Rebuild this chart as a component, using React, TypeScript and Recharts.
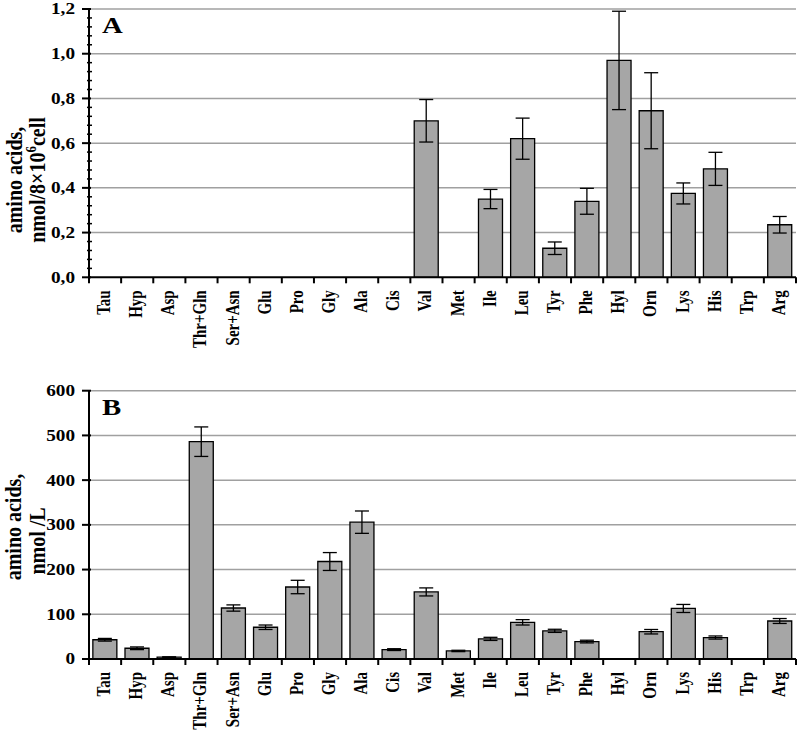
import { BarChart, Bar, XAxis, YAxis, CartesianGrid, ErrorBar } from 'recharts';

const acids = ['Tau', 'Hyp', 'Asp', 'Thr+Gln', 'Ser+Asn', 'Glu', 'Pro', 'Gly', 'Ala', 'Cis', 'Val',
  'Met', 'Ile', 'Leu', 'Tyr', 'Phe', 'Hyl', 'Orn', 'Lys', 'His', 'Trp', 'Arg'];

// panel A: nmol / 8x10^6 cell
const cellValues = [null, null, null, null, null, null, null, null, null, null, 0.70,
  null, 0.35, 0.62, 0.13, 0.34, 0.97, 0.745, 0.375, 0.485, null, 0.235];
const cellErrors = [null, null, null, null, null, null, null, null, null, null, 0.095,
  null, 0.043, 0.092, 0.028, 0.058, 0.22, 0.17, 0.047, 0.074, null, 0.037];

// panel B: nmol / L
const mediumValues = [43, 24, 4, 486, 114, 71, 161, 218, 306, 21, 150,
  18, 45, 82, 63, 39, null, 61, 113, 48, null, 85];
const mediumErrors = [3, 3, 1, 33, 7, 5, 15, 20, 25, 2, 9,
  1.5, 3.5, 6, 3.5, 3, null, 5, 9, 3.5, null, 5.5];

const ticksA = [0, 0.2, 0.4, 0.6, 0.8, 1.0, 1.2];
const minorTicksA = Array.from({ length: 31 }, (_, i) => Math.round(i * 4) / 100);
const ticksB = [0, 100, 200, 300, 400, 500, 600];

const dataA = acids.map((name, i) => ({ name, value: cellValues[i], err: cellErrors[i] }));
const dataB = acids.map((name, i) => ({ name, value: mediumValues[i], err: mediumErrors[i] }));

const FONT = 'Liberation Serif';
const W = 800;
const LEFT = 89;
const RIGHT = 4;
const PLOT_H = 268.3;
const BAND = (W - LEFT - RIGHT) / acids.length;

// tick marks on the category boundaries, rotated label in the middle
function XTick(props: any) {
  const { x, y, payload, index } = props;
  const left = x - BAND / 2;
  return (
    <g>
      <line x1={left} x2={left} y1={y} y2={y + 6} stroke="#000" strokeWidth={2} />
      {index === acids.length - 1 && (
        <line x1={x + BAND / 2} x2={x + BAND / 2} y1={y} y2={y + 6} stroke="#000" strokeWidth={2} />
      )}
      <text
        x={0}
        y={0}
        transform={`translate(${x + 5},${y + 13}) scale(1.2,1) rotate(-90)`}
        textAnchor="end"
        fontFamily={FONT}
        fontWeight={700}
        fontSize={15}
        fill="#000"
      >
        {payload.value}
      </text>
    </g>
  );
}

const makeYTick = (majors: number[], fmt: (v: number) => string) => (props: any) => {
  const { x, y, payload, index } = props;
  const major = majors.some((m) => Math.abs(m - payload.value) < 1e-9);
  if (!major) {
    return <line key={`yt-${index}`} x1={x - 2} x2={x + 3} y1={y} y2={y} stroke="#000" strokeWidth={1.5} />;
  }
  return (
    <g key={`yt-${index}`}>
      <line x1={x - 7} x2={x + 2} y1={y} y2={y} stroke="#000" strokeWidth={2} />
      <text
        x={0}
        y={0}
        transform={`translate(${x - 14},${y}) scale(1.2,1)`}
        textAnchor="end"
        dy="0.34em"
        fontFamily={FONT}
        fontWeight={700}
        fontSize={16}
        fill="#000"
      >
        {fmt(payload.value)}
      </text>
    </g>
  );
};

function Panel({ data, height, top, domain, ticks, allTicks, fmt, letter, labelLines }: any) {
  const plotBottomPad = height - top - PLOT_H;
  const max = domain[1];
  return (
    <BarChart
      width={W}
      height={height}
      data={data}
      margin={{ top, right: RIGHT, left: 0, bottom: 0 }}
      barCategoryGap="12%"
    >
      <CartesianGrid
        vertical={false}
        stroke="#a0a0a0"
        strokeWidth={1.5}
        horizontalCoordinatesGenerator={(p: any) => {
          const t0 = p?.offset?.top ?? top;
          const h = p?.offset?.height ?? PLOT_H;
          return ticks.filter((t: number) => t > 0).map((t: number) => t0 + h * (1 - t / max));
        }}
      />
      <XAxis
        dataKey="name"
        interval={0}
        height={plotBottomPad}
        tickLine={false}
        tickSize={0}
        tickMargin={0}
        axisLine={{ stroke: '#000', strokeWidth: 2 }}
        tick={<XTick />}
      />
      <YAxis
        width={LEFT}
        domain={domain}
        ticks={allTicks}
        interval={0}
        tickLine={false}
        tickSize={0}
        tickMargin={0}
        axisLine={{ stroke: '#000', strokeWidth: 2 }}
        tick={makeYTick(ticks, fmt)}
      />
      <Bar dataKey="value" fill="#a6a6a6" stroke="#000" strokeWidth={1.3} isAnimationActive={false}>
        <ErrorBar dataKey="err" width={7} stroke="#000" strokeWidth={1.3} />
      </Bar>
      <text x={0} y={0} transform={`translate(102,${top + 24}) scale(1.2,1)`}
        fontFamily={FONT} fontWeight={700} fontSize={24} fill="#000">
        {letter}
      </text>
      {labelLines.map((ln: any, i: number) => (
        <text key={i} x={0} y={0}
          transform={`translate(${ln.x},${ln.cy}) scale(1.2,1) rotate(-90)`}
          textAnchor="middle" fontFamily={FONT} fontWeight={700} fontSize={20} fill="#000">
          {ln.content}
        </text>
      ))}
    </BarChart>
  );
}

export default function App() {
  return (
    <div style={{ position: 'absolute', left: 0, top: 0, width: 800, height: 744, background: '#fff' }}>
      <Panel
        data={dataA}
        height={370}
        top={9}
        domain={[0, 1.2]}
        ticks={ticksA}
        allTicks={minorTicksA}
        fmt={(v: number) => v.toFixed(1).replace('.', ',')}
        letter="A"
        labelLines={[
          { x: 22, cy: 180, content: 'amino acids,' },
          {
            x: 45,
            cy: 180,
            content: (
              <>
                nmol/8×10<tspan baselineShift="super" fontSize={13}>6</tspan>cell
              </>
            ),
          },
        ]}
      />
      <Panel
        data={dataB}
        height={374}
        top={20.7}
        domain={[0, 600]}
        ticks={ticksB}
        allTicks={ticksB}
        fmt={(v: number) => String(v)}
        letter="B"
        labelLines={[
          { x: 21, cy: 157, content: 'amino acids,' },
          { x: 45, cy: 171, content: 'nmol /L' },
        ]}
      />
    </div>
  );
}
